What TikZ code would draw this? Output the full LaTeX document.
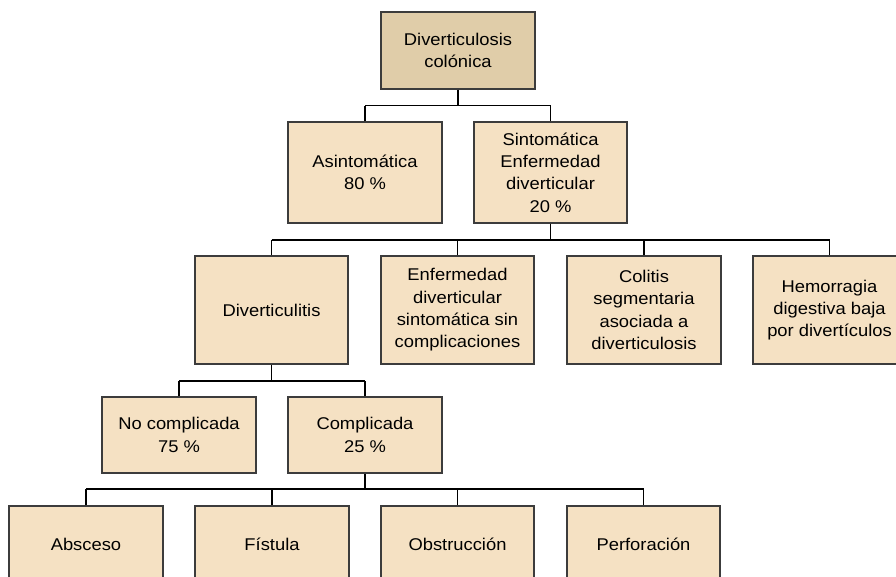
\documentclass[tikz,border=0pt]{standalone}
\usepackage{fontspec}
\setmainfont{Liberation Sans}[FakeStretch=1.08]
\definecolor{topfill}{RGB}{224,205,169}
\definecolor{boxfill}{RGB}{245,225,195}
\definecolor{boxedge}{RGB}{60,60,60}
\tikzset{
  box/.style={draw=boxedge, fill=boxfill, line width=1.4pt, inner sep=0pt,
    align=center, font=\fontsize{17}{22.3}\selectfont, text=black},
  topbox/.style={box, fill=topfill},
  conn/.style={draw=black, line width=1.5pt},
}
\newcommand{\bx}[7]{% style, name, x1, y1, x2, y2, text
  \node[#1, minimum width={(#5-#3)*1pt}, minimum height={(#6-#4)*1pt}]
    (#2) at ({(#3+#5)/2}, {(#4+#6)/2}) {#7};}
\begin{document}
\begin{tikzpicture}[x=1pt, y=-1pt]
\useasboundingbox (0,0) rectangle (896,576);
\clip (0,0) rectangle (896,576);
% bus coordinates
\coordinate (b1) at (0,105.5);
\coordinate (b2) at (0,240);
\coordinate (b3) at (0,381);
\coordinate (b4) at (0,489);
% boxes
\bx{topbox}{top}{381}{12}{535}{89}{Diverticulosis\\colónica}
\bx{box}{asin}{288}{122}{442}{223}{Asintomática\\80 \%}
\bx{box}{sint}{474}{122}{627}{223}{Sintomática\\Enfermedad\\diverticular\\20 \%}
\bx{box}{dvt}{195}{256}{348}{364}{Diverticulitis}
\bx{box}{edss}{381}{256}{534}{364}{Enfermedad\\diverticular\\sintomática sin\\complicaciones}
\bx{box}{col}{567}{256}{721}{364}{Colitis\\segmentaria\\asociada a\\diverticulosis}
\bx{box}{hem}{753}{256}{906}{364}{Hemorragia\\digestiva baja\\por divertículos}
\bx{box}{nocom}{102}{397}{256}{473}{No complicada\\75 \%}
\bx{box}{com}{288}{397}{442}{473}{Complicada\\25 \%}
\bx{box}{abs}{9}{506}{163}{582}{Absceso}
\bx{box}{fis}{195}{506}{349}{582}{Fístula}
\bx{box}{obs}{381}{506}{534}{582}{Obstrucción}
\bx{box}{per}{567}{506}{720}{582}{Perforación}
% connectors level 1
\draw[conn] (top.south) -- (top.south |- b1);
\draw[conn] (asin.north |- b1) -- (sint.north |- b1);
\draw[conn] (asin.north) -- (asin.north |- b1);
\draw[conn] (sint.north) -- (sint.north |- b1);
% level 2
\draw[conn] (sint.south) -- (sint.south |- b2);
\draw[conn] (dvt.north |- b2) -- (hem.north |- b2);
\draw[conn] (dvt.north) -- (dvt.north |- b2);
\draw[conn] (edss.north) -- (edss.north |- b2);
\draw[conn] (col.north) -- (col.north |- b2);
\draw[conn] (hem.north) -- (hem.north |- b2);
% level 3
\draw[conn] (dvt.south) -- (dvt.south |- b3);
\draw[conn] (nocom.north |- b3) -- (com.north |- b3);
\draw[conn] (nocom.north) -- (nocom.north |- b3);
\draw[conn] (com.north) -- (com.north |- b3);
% level 4
\draw[conn] (com.south) -- (com.south |- b4);
\draw[conn] (abs.north |- b4) -- (per.north |- b4);
\draw[conn] (abs.north) -- (abs.north |- b4);
\draw[conn] (fis.north) -- (fis.north |- b4);
\draw[conn] (obs.north) -- (obs.north |- b4);
\draw[conn] (per.north) -- (per.north |- b4);
\end{tikzpicture}
\end{document}
